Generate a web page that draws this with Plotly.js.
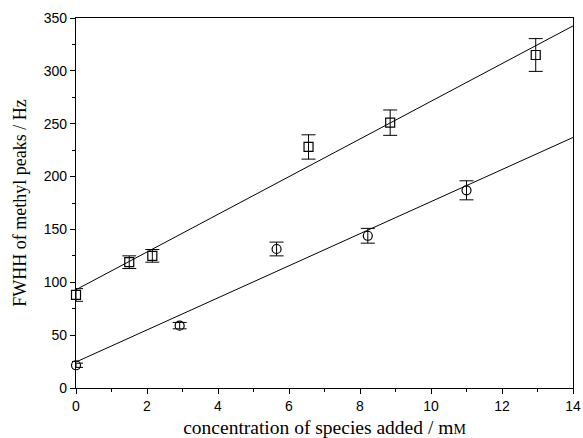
<!DOCTYPE html>
<html><head><meta charset="utf-8">
<script src="https://cdn.plot.ly/plotly-3.0.1.min.js"></script>
<style>html,body{margin:0;padding:0;background:#fff}</style>
</head><body>
<div id="chart" style="width:583px;height:438px"></div>
<script>
// Squares series
const sqX = [0, 1.5, 2.15, 6.55, 8.85, 12.95];
const sqY = [88, 119, 125, 228, 251, 315];
const sqErr = [6, 6, 6, 11.5, 12, 15.5];
// Circles series
const ciX = [0, 2.92, 5.65, 8.22, 11.0];
const ciY = [21.5, 59, 131.5, 144, 187];
const ciErr = [2, 3, 6.5, 7, 9];
// Linear fit lines (endpoints)
const fitX = [0, 14];
const sqFit = [93, 342.5];
const ciFit = [24.6, 237];

const xTicks = [0, 2, 4, 6, 8, 10, 12, 14];
const yTicks = [0, 50, 100, 150, 200, 250, 300, 350];

const traces = [
  {x: fitX, y: sqFit, mode: 'lines', line: {color: '#000', width: 1}, hoverinfo: 'skip'},
  {x: fitX, y: ciFit, mode: 'lines', line: {color: '#000', width: 1}, hoverinfo: 'skip'},
  {x: sqX, y: sqY, mode: 'markers', cliponaxis: false,
   marker: {symbol: 'square-open', size: 9, color: '#000', line: {width: 1.2}},
   error_y: {type: 'data', array: sqErr, visible: true, color: '#000', thickness: 1, width: 7}},
  {x: ciX, y: ciY, mode: 'markers', cliponaxis: false,
   marker: {symbol: 'circle-open', size: 9, color: '#000', line: {width: 1.2}},
   error_y: {type: 'data', array: ciErr, visible: true, color: '#000', thickness: 1, width: 7}}
];

const axisCommon = {
  showgrid: false, zeroline: false, showline: true, linecolor: '#000', linewidth: 1.2,
  mirror: true, ticks: 'outside', ticklen: 5, tickwidth: 1, tickcolor: '#000',
  tickfont: {family: 'Liberation Sans, Arial, sans-serif', size: 14, color: '#000'}
};

const layout = {
  width: 583, height: 438,
  margin: {l: 76, r: 10, t: 18, b: 50},
  paper_bgcolor: '#fff', plot_bgcolor: '#fff',
  showlegend: false,
  xaxis: Object.assign({}, axisCommon, {
    range: [0, 14], tickvals: xTicks, ticktext: xTicks.map(String),
    minor: {dtick: 1, tick0: 0, ticks: 'outside', ticklen: 3, tickcolor: '#000', tickwidth: 1},
    title: {text: 'concentration of species added / m<span style="font-size:14px">M</span>',
            font: {family: 'Liberation Serif, Times New Roman, serif', size: 19.5, color: '#000'}, standoff: 9}
  }),
  yaxis: Object.assign({}, axisCommon, {
    range: [0, 350], tickvals: yTicks, ticktext: yTicks.map(String),
    minor: {dtick: 25, tick0: 0, ticks: 'outside', ticklen: 3, tickcolor: '#000', tickwidth: 1},
    title: {text: 'FWHH of methyl peaks / Hz',
            font: {family: 'Liberation Serif, Times New Roman, serif', size: 18, color: '#000'}, standoff: 12}
  })
};

Plotly.newPlot('chart', traces, layout, {staticPlot: true, displayModeBar: false});
</script>
</body></html>
